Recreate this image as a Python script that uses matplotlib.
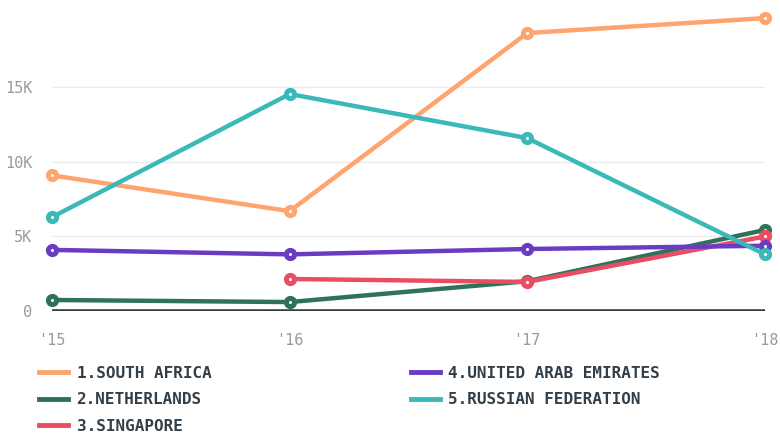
import matplotlib.pyplot as plt
from matplotlib.ticker import FuncFormatter
from matplotlib.lines import Line2D

years = ["'15", "'16", "'17", "'18"]
south_africa = [9100, 6700, 18650, 19650]
netherlands = [740, 600, 2000, 5440]
singapore = [None, 2150, 1950, 5000]
uae = [4100, 3800, 4160, 4380]
russia = [6300, 14560, 11600, 3800]

series = [
    ("1.SOUTH AFRICA", south_africa, "#fda46f"),
    ("2.NETHERLANDS", netherlands, "#2e7359"),
    ("3.SINGAPORE", singapore, "#ea4c64"),
    ("4.UNITED ARAB EMIRATES", uae, "#6a3cc4"),
    ("5.RUSSIAN FEDERATION", russia, "#3bb8b8"),
]
draw_order = [0, 4, 3, 2, 1]

fig = plt.figure(figsize=(7.8, 4.34), dpi=100)
ax = fig.add_axes([0.0667, 0.2834, 0.914, 0.704])

x = list(range(len(years)))
for i in draw_order:
    name, vals, col = series[i]
    xs = [xx for xx, v in zip(x, vals) if v is not None]
    ys = [v for v in vals if v is not None]
    ax.plot(xs, ys, color=col, lw=3.2, marker="o", ms=8.5, clip_on=False,
            solid_capstyle="round", zorder=3 + i * 0.1)
    ax.plot(xs, ys, ls="none", marker="o", ms=1.2, color="white",
            clip_on=False, zorder=3.05 + i * 0.1)

ax.set_xlim(0, 3)
ax.set_ylim(0, 20500)
ax.set_yticks([0, 5000, 10000, 15000])
ax.yaxis.set_major_formatter(FuncFormatter(lambda v, p: "0" if v == 0 else f"{int(v/1000)}K"))
ax.set_xticks(x)
ax.set_xticklabels(years)
ax.grid(axis="y", color="#ebebeb", lw=1)
ax.axhline(0, color="#333f48", lw=2.6, zorder=2)
for s in ax.spines.values():
    s.set_visible(False)
ax.tick_params(length=0, colors="#9a9a9a", labelsize=11)
ax.tick_params(axis="y", pad=14)
ax.tick_params(axis="x", pad=16)
for t in ax.get_xticklabels() + ax.get_yticklabels():
    t.set_family("DejaVu Sans Mono")

leg_handles = [Line2D([], [], color=series[i][2], lw=3.5) for i in range(5)]
leg = fig.legend(leg_handles, [s[0] for s in series], ncol=2, loc="upper left",
                 bbox_to_anchor=(0.05, 0.157), frameon=False, handlelength=1.8,
                 handletextpad=0.55, columnspacing=12.5, labelspacing=0.72,
                 borderaxespad=0, borderpad=0,
                 prop={"family": "DejaVu Sans Mono", "weight": "bold", "size": 11.5})
for t in leg.get_texts():
    t.set_color("#333f48")

fig.savefig("out.png", dpi=100)
